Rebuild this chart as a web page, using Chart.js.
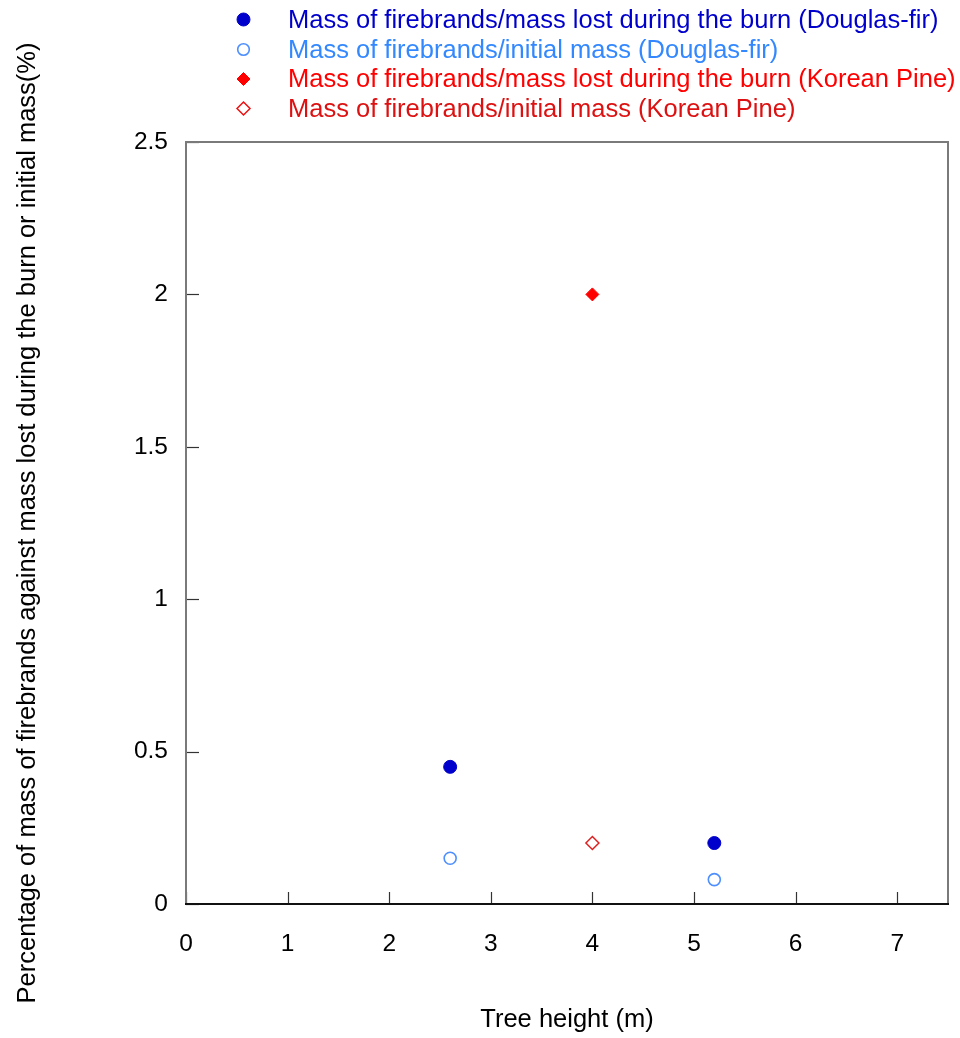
<!DOCTYPE html>
<html>
<head>
<meta charset="utf-8">
<script src="https://cdn.jsdelivr.net/npm/chart.js@4"></script>
<style>
  html, body { margin: 0; padding: 0; background: #ffffff; }
  #wrap { width: 960px; height: 1038px; }
</style>
</head>
<body>
<div id="wrap"><canvas id="c" width="960" height="1038"></canvas></div>
<script>
// Axis ticks
const xTicks = [0, 1, 2, 3, 4, 5, 6, 7];
const yTicks = [0, 0.5, 1, 1.5, 2, 2.5];

// Series labels
const seriesNames = [
  'Mass of firebrands/mass lost during the burn (Douglas-fir)',
  'Mass of firebrands/initial mass (Douglas-fir)',
  'Mass of firebrands/mass lost during the burn (Korean Pine)',
  'Mass of firebrands/initial mass (Korean Pine)'
];

// Douglas-fir: tree height (m) and firebrand mass percentages
const dfHeight = [2.6, 5.2];
const dfLostPct = [0.45, 0.2];
const dfInitPct = [0.15, 0.08];

// Korean Pine
const kpHeight = [4];
const kpLostPct = [2.0];
const kpInitPct = [0.2];

const FONT = '"Liberation Sans", Arial, Helvetica, sans-serif';

function pts(xs, ys) { return xs.map((x, i) => ({ x: x, y: ys[i] })); }

// Legend text colours
const legendText = ['#0000cc', '#3388ff', '#ff0000', '#dd1111'];

const datasets = [
  { label: seriesNames[0], data: pts(dfHeight, dfLostPct), pointStyle: 'circle', pointRadius: 6.5,
    backgroundColor: '#0000cc', borderColor: '#0000cc', borderWidth: 1 },
  { label: seriesNames[1], data: pts(dfHeight, dfInitPct), pointStyle: 'circle', pointRadius: 6,
    backgroundColor: '#ffffff', borderColor: '#4d8fff', borderWidth: 1.6 },
  { label: seriesNames[2], data: pts(kpHeight, kpLostPct), pointStyle: 'rectRot', pointRadius: 6.5,
    backgroundColor: '#ff0000', borderColor: '#ff0000', borderWidth: 1 },
  { label: seriesNames[3], data: pts(kpHeight, kpInitPct), pointStyle: 'rectRot', pointRadius: 6.5,
    backgroundColor: '#ffffff', borderColor: '#dd2020', borderWidth: 1.5 }
];

// Frame, inward tick marks and the stacked legend above the plot
const framePlugin = {
  id: 'frameAndLegend',
  afterDraw(chart) {
    const ctx = chart.ctx;
    const a = chart.chartArea;
    const xs = chart.scales.x, ys = chart.scales.y;
    ctx.save();
    // ticks
    ctx.strokeStyle = '#333333';
    ctx.lineWidth = 1.2;
    xTicks.forEach(v => {
      const px = Math.round(xs.getPixelForValue(v)) + 0.5;
      ctx.beginPath(); ctx.moveTo(px, a.bottom); ctx.lineTo(px, a.bottom - 12); ctx.stroke();
    });
    yTicks.forEach(v => {
      const py = Math.round(ys.getPixelForValue(v)) + 0.5;
      ctx.beginPath(); ctx.moveTo(a.left, py); ctx.lineTo(a.left + 13, py); ctx.stroke();
    });
    // frame
    ctx.lineWidth = 2;
    ctx.strokeStyle = '#7a7a7a';
    ctx.beginPath();
    ctx.moveTo(a.left, a.bottom); ctx.lineTo(a.left, a.top);
    ctx.lineTo(a.right, a.top); ctx.lineTo(a.right, a.bottom);
    ctx.stroke();
    ctx.strokeStyle = '#111111';
    ctx.beginPath(); ctx.moveTo(a.left - 1, a.bottom); ctx.lineTo(a.right + 1, a.bottom); ctx.stroke();

    // legend
    const rowY = [19.5, 49.5, 79, 108.5];
    const markX = 243.5, textX = 288;
    ctx.font = '25.5px ' + FONT;
    ctx.textBaseline = 'middle';
    ctx.textAlign = 'left';
    chart.data.datasets.forEach((ds, i) => {
      const y = rowY[i];
      ctx.lineWidth = ds.borderWidth;
      ctx.strokeStyle = i === 3 ? '#ee1111' : ds.borderColor;
      ctx.fillStyle = ds.backgroundColor;
      ctx.beginPath();
      if (ds.pointStyle === 'circle') {
        ctx.arc(markX, y, i === 0 ? 6.5 : 5.8, 0, Math.PI * 2);
      } else {
        const r = 6.5;
        ctx.moveTo(markX, y - r); ctx.lineTo(markX + r, y);
        ctx.lineTo(markX, y + r); ctx.lineTo(markX - r, y); ctx.closePath();
      }
      ctx.fill(); ctx.stroke();
      ctx.fillStyle = legendText[i];
      ctx.fillText(ds.label, textX, y + 1);
    });
    ctx.restore();
  }
};

new Chart(document.getElementById('c'), {
  type: 'scatter',
  data: { datasets: datasets },
  options: {
    responsive: false,
    animation: false,
    devicePixelRatio: 1,
    layout: { padding: { top: 142, right: 12, left: 0, bottom: 0 } },
    plugins: { legend: { display: false }, tooltip: { enabled: false } },
    scales: {
      x: {
        type: 'linear', min: 0, max: 7.5,
        afterBuildTicks: s => { s.ticks = xTicks.map(v => ({ value: v })); },
        afterFit: s => { s.height = 134; },
        grid: { display: false, drawTicks: false },
        border: { display: false },
        ticks: { color: '#000000', font: { family: FONT, size: 24.5 }, padding: 26,
                 callback: v => String(v) },
        title: { display: true, text: 'Tree height (m)', color: '#000000',
                 font: { family: FONT, size: 25.5 }, padding: { top: 0, bottom: 3 } }
      },
      y: {
        type: 'linear', min: 0, max: 2.5,
        afterBuildTicks: s => { s.ticks = yTicks.map(v => ({ value: v })); },
        afterFit: s => { s.width = 186; },
        grid: { display: false, drawTicks: false },
        border: { display: false },
        ticks: { color: '#000000', font: { family: FONT, size: 24.5 }, padding: 18,
                 callback: v => String(v) },
        title: { display: true, text: 'Percentage of mass of firebrands against mass lost during the burn or initial mass(%)',
                 color: '#000000', font: { family: FONT, size: 25.5 }, padding: { top: 13, bottom: 0 } }
      }
    }
  },
  plugins: [framePlugin]
});
</script>
</body>
</html>
